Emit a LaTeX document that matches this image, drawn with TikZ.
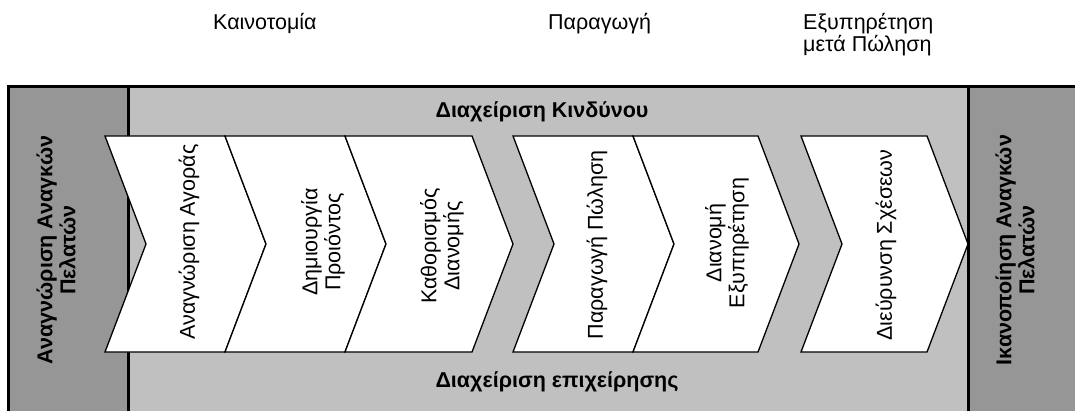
\documentclass[tikz,border=0pt]{standalone}
\usepackage{fontspec}
\setmainfont{Liberation Sans}
\definecolor{paneldark}{HTML}{969696}
\definecolor{panellight}{HTML}{C0C0C0}
\begin{document}
\begin{tikzpicture}[x=1pt,y=-1pt,
  frame/.style={draw=black,line width=3pt},
  chev/.style={draw=black,fill=white,line width=1.3pt,line join=miter},
  steptext/.style={rotate=90,align=center,font=\fontsize{21.5}{23}\selectfont,inner sep=0pt},
  sidetext/.style={rotate=90,align=center,font=\bfseries\fontsize{21.5}{23}\selectfont,inner sep=0pt},
  bandtext/.style={font=\bfseries\fontsize{21.5}{23}\selectfont,inner sep=0pt},
  phasetext/.style={align=left,font=\fontsize{21.5}{22}\selectfont,inner sep=0pt,anchor=north west}]
\useasboundingbox (0,0) rectangle (1075,411);
\begin{scope}
\clip (0,0) rectangle (1075,411);
% middle band and side panels
\fill[panellight] (8,87) rectangle (1085,420);
\fill[paneldark] (8,87) rectangle (128,420);
\fill[paneldark] (968,87) rectangle (1085,420);
\draw[frame] (128,87) -- (128,420);
\draw[frame] (968,87) -- (968,420);
\draw[frame] (8,420) -- (8,87) -- (1085,87);
% chevrons: left edge, right edge of the flat top, depth of the point
\foreach \l/\r in {105/225,225/345,345/472,513/633,633/758,801/927}{
  \draw[chev] (\l,136) -- (\r,136) -- (\r+41,244) -- (\r,352) -- (\l,352) -- (\l+41,244) -- cycle;
}
\end{scope}
% band labels
\node[bandtext] (risk) at (542,112) {Διαχείριση Κινδύνου};
\node[bandtext] (biz) at (557,382) {Διαχείριση επιχείρησης};
% side panels
\node[sidetext] (needs) at (56,250) {Αναγνώριση Αναγκών\\Πελατών};
\node[sidetext] (satisf) at (1015,250) {Ικανοποίηση Αναγκών\\Πελατών};
% steps
\node[steptext] (s1) at (189,242) {Αναγνώριση Αγοράς};
\node[steptext] (s2) at (323,242) {Δημιουργία\\Προιόντος};
\node[steptext] (s3) at (442,246) {Καθορισμός\\Διανομής};
\node[steptext] (s4) at (597,245) {Παραγωγή Πώληση};
\node[steptext] (s5) at (727,243) {Διανομή\\Εξυπηρέτηση};
\node[steptext] (s6) at (886,245) {Διεύρυνση Σχέσεων};
% phase headings
\node[phasetext] (p1) at (213,13) {Καινοτομία};
\node[phasetext] (p2) at (548,13) {Παραγωγή};
\node[phasetext] (p3) at (803,13) {Εξυπηρέτηση\\μετά Πώληση};
\end{tikzpicture}
\end{document}
